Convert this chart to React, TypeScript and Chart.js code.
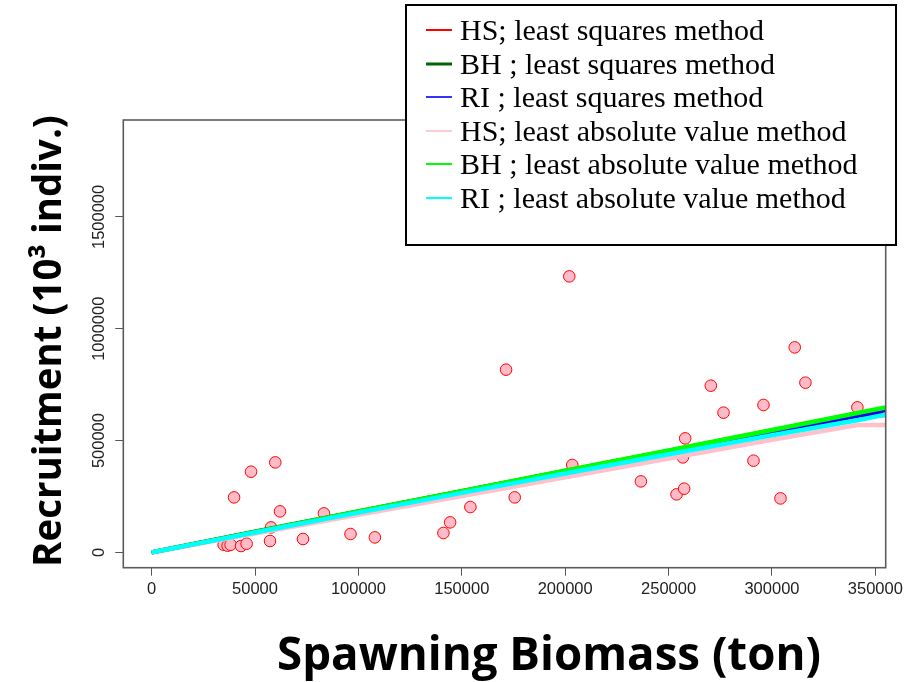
import React, { useEffect, useRef } from "react";
import { Chart, registerables } from "chart.js";

Chart.register(...registerables);

// Observed stock–recruitment pairs (SSB in ton, recruitment in 10^3 indiv.)
const ssbValues = [
  59800, 48070, 39860, 62080, 83330, 57730, 34830, 36760, 38210, 43240,
  45940, 57250, 73190, 96180, 107970, 141110, 144350, 154150, 171400, 175600,
  201980, 203430, 236620, 253860, 257540, 256910, 258020, 270430, 276570, 291060,
  295890, 304110, 311010, 316180, 341300,
];
const recruitValues = [
  402500, 360900, 246000, 183400, 174400, 111800, 34400, 30000, 34400, 28600,
  38900, 51000, 59900, 82300, 67100, 86800, 134200, 203000, 817100, 246000,
  1234300, 390900, 317500, 259400, 284900, 424900, 509800, 745500, 624800, 410100,
  659200, 241500, 916800, 758900, 648500,
];

// Fitted curves, read at these SSB values
const curveSSB = [0, 50000, 100000, 150000, 200000, 250000, 300000, 341300, 355000];
const hsLeastSquares = [0, 90000, 180000, 270000, 360000, 450000, 540000, 614000, 614000];
const bhLeastSquares = [0, 92000, 183000, 274000, 364000, 454000, 544000, 618000, 644000];
const riLeastSquares = [0, 89500, 179000, 268000, 357500, 446500, 535000, 608000, 633000];
const hsLeastAbs = [0, 84000, 168000, 252000, 336000, 420000, 504000, 570000, 570000];
const bhLeastAbs = [0, 91500, 183000, 274000, 365000, 456000, 547000, 623000, 648000];
const riLeastAbs = [0, 89000, 178000, 266000, 353000, 439000, 524000, 591000, 616000];

const seriesLabels = [
  "HS; least squares method",
  "BH ; least squares method",
  "RI ; least squares method",
  "HS; least absolute value method",
  "BH ; least absolute value method",
  "RI ; least absolute value method",
];
const seriesColors = ["#ff0000", "#006400", "#0000ff", "#ffc0cb", "#00ff00", "#00ffff"];
const legendLineWidths = [2, 3, 1.6, 1.6, 2, 2];

const xTickValues = [0, 50000, 100000, 150000, 200000, 250000, 300000, 350000];
const yTickValues = [0, 500000, 1000000, 1500000];

const xTitle = "Spawning Biomass (ton)";
const yTitle = "Recruitment (10\u00b3 indiv.)";

function fitFont(ctx: CanvasRenderingContext2D, text: string, target: number, family: string) {
  let size = 40;
  ctx.font = `bold ${size}px ${family}`;
  const w = ctx.measureText(text).width;
  size = (size * target) / w;
  ctx.font = `bold ${size}px ${family}`;
}

const decorPlugin = {
  id: "decor",
  afterDraw(chart: any) {
    const { ctx, chartArea: a } = chart;
    ctx.save();
    // plot box
    ctx.strokeStyle = "#5c5c5c";
    ctx.lineWidth = 1.6;
    ctx.strokeRect(a.left, a.top, a.right - a.left, a.bottom - a.top);

    // axis titles
    ctx.fillStyle = "#000";
    ctx.textAlign = "center";
    ctx.textBaseline = "alphabetic";
    fitFont(ctx, xTitle, 544, '"Open Sans", "Noto Sans", sans-serif');
    ctx.fillText(xTitle, 549, 670);

    ctx.save();
    fitFont(ctx, yTitle, 452, '"Open Sans", "Noto Sans", sans-serif');
    ctx.translate(61, 341);
    ctx.rotate(-Math.PI / 2);
    ctx.fillText(yTitle, 0, 0);
    ctx.restore();

    // legend
    const lx = 406, ly = 5, lw = 490, lh = 240;
    ctx.fillStyle = "#fff";
    ctx.fillRect(lx, ly, lw, lh);
    ctx.strokeStyle = "#000";
    ctx.lineWidth = 2;
    ctx.strokeRect(lx, ly, lw, lh);
    ctx.font = '30px "Liberation Serif", "DejaVu Serif", serif';
    ctx.textAlign = "left";
    ctx.textBaseline = "alphabetic";
    for (let i = 0; i < seriesLabels.length; i++) {
      const base = Math.round(30 + 33.5 * i);
      ctx.strokeStyle = seriesColors[i];
      ctx.lineWidth = legendLineWidths[i];
      ctx.beginPath();
      ctx.moveTo(426, base);
      ctx.lineTo(452, base);
      ctx.stroke();
      ctx.fillStyle = "#000";
      ctx.fillText(seriesLabels[i], 460, base + 10);
    }
    ctx.restore();
  },
};

export default function App() {
  const canvasRef = useRef<HTMLCanvasElement | null>(null);

  useEffect(() => {
    document.body.style.margin = "0";
    const canvas = canvasRef.current;
    if (!canvas) return;

    const lineSets = [
      hsLeastSquares,
      bhLeastSquares,
      riLeastSquares,
      hsLeastAbs,
      bhLeastAbs,
      riLeastAbs,
    ].map((vals, i) => ({
      label: seriesLabels[i],
      data: curveSSB.map((x, j) => ({ x, y: vals[j] })),
      showLine: true,
      borderColor: seriesColors[i],
      backgroundColor: seriesColors[i],
      borderWidth: i === 2 ? 3 : 4.5,
      pointRadius: 0,
      pointHoverRadius: 0,
      tension: 0,
      order: 6 - i,
    }));

    const chart = new Chart(canvas, {
      type: "scatter",
      data: {
        datasets: [
          {
            label: "observed",
            data: ssbValues.map((x, i) => ({ x, y: recruitValues[i] })),
            pointRadius: 5.8,
            pointBorderWidth: 1,
            pointBackgroundColor: "#ffbcc8",
            pointBorderColor: "#ff0000",
            showLine: false,
            order: 10,
          },
          ...lineSets,
        ],
      },
      options: {
        responsive: false,
        animation: false,
        events: [],
        layout: { padding: { left: 0, top: 120, right: 38.3, bottom: 0 } },
        plugins: { legend: { display: false }, tooltip: { enabled: false } },
        scales: {
          x: {
            type: "linear",
            min: -13700,
            max: 355000,
            afterBuildTicks: (s: any) => {
              s.ticks = xTickValues.map((v) => ({ value: v }));
            },
            afterFit: (s: any) => {
              s.height = 682 - 567.7;
            },
            grid: { drawOnChartArea: false, drawTicks: true, tickLength: 8, color: "#555" },
            border: { display: false },
            ticks: {
              padding: 4,
              color: "#222",
              font: { family: '"Liberation Sans", Arial, sans-serif', size: 16.5 },
              maxRotation: 0,
              minRotation: 0,
              callback: (v: any) => String(v),
            },
          },
          y: {
            type: "linear",
            min: -68400,
            max: 1933400,
            afterBuildTicks: (s: any) => {
              s.ticks = yTickValues.map((v) => ({ value: v }));
            },
            afterFit: (s: any) => {
              s.width = 123.3;
            },
            grid: { drawOnChartArea: false, drawTicks: true, tickLength: 8, color: "#555" },
            border: { display: false },
            ticks: {
              padding: -15.8,
              color: "#222",
              crossAlign: "center",
              minRotation: 90,
              maxRotation: 90,
              font: { family: '"Liberation Sans", Arial, sans-serif', size: 16.5 },
              callback: (v: any) => String(v),
            },
          },
        },
      },
      plugins: [decorPlugin],
    } as any);

    return () => chart.destroy();
  }, []);

  return (
    <div style={{ width: 924, height: 682, background: "#fff" }}>
      <canvas ref={canvasRef} width={924} height={682} style={{ display: "block" }} />
    </div>
  );
}
